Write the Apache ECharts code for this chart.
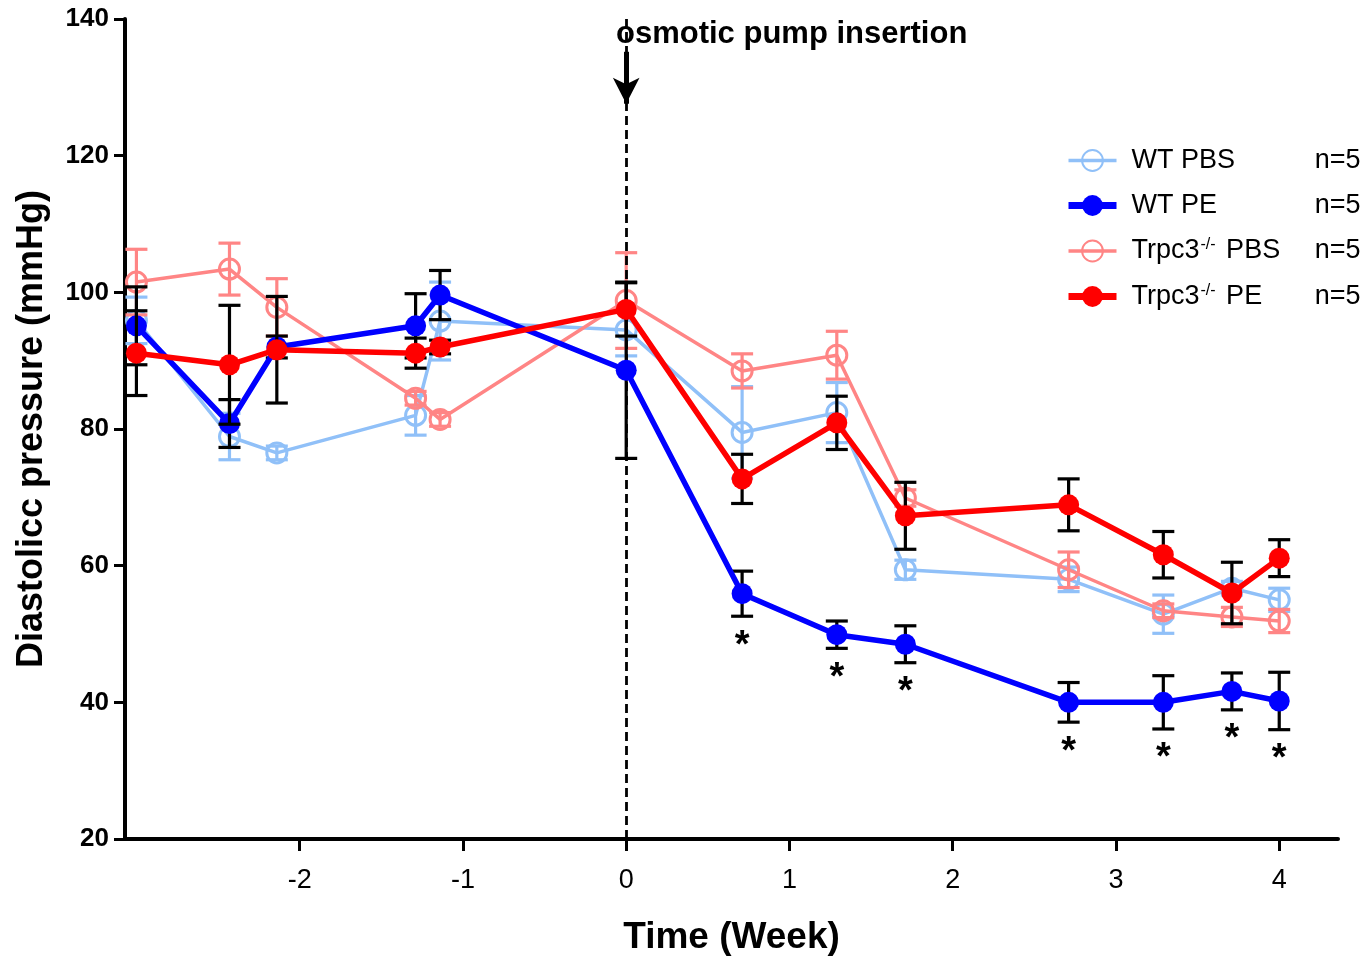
<!DOCTYPE html>
<html>
<head>
<meta charset="utf-8">
<script src="https://cdn.jsdelivr.net/npm/echarts@6/dist/echarts.min.js"></script>
<style>
html,body{margin:0;padding:0;background:#fff;}
#chart{width:1366px;height:957px;}
</style>
</head>
<body>
<div id="chart"></div>
<script>
// ---- data ----
const weeks = [-3, -2.43, -2.14, -1.29, -1.14, 0, 0.71, 1.29, 1.71, 2.71, 3.29, 3.71, 4];

const wtPbsMean = [95.9, 78.9, 76.5, 82.0, 95.8, 94.5, 79.5, 82.4, 59.4, 58.0, 52.9, 56.7, 55.0];
const wtPbsErr  = [3.4, 3.4, 1.0, 2.9, 5.7, 3.8, 6.7, 4.4, 1.4, 1.8, 2.8, 1.0, 1.7];

const wtPeMean  = [95.1, 80.8, 92.0, 95.1, 99.6, 88.6, 55.9, 49.9, 48.5, 40.0, 40.0, 41.6, 40.2];
const wtPeErr   = [5.7, 3.5, 1.6, 4.7, 3.6, 12.9, 3.3, 2.0, 2.7, 2.9, 3.9, 2.7, 4.2];

const koPbsMean = [101.5, 103.4, 97.8, 84.5, 81.4, 98.8, 88.5, 90.8, 69.9, 59.4, 53.4, 52.5, 51.9];
const koPbsErr  = [4.8, 3.8, 4.2, 1.0, 1.0, 7.0, 2.5, 3.5, 1.2, 2.6, 1.0, 1.4, 1.7];

const koPeMean  = [91.1, 89.4, 91.6, 91.1, 92.0, 97.5, 72.7, 80.9, 67.3, 68.9, 61.6, 56.0, 61.1];
const koPeErr   = [6.2, 8.7, 7.8, 2.2, 1.0, 3.9, 3.6, 3.9, 4.9, 3.8, 3.4, 4.5, 2.7];

// significance markers (*) for WT PE
const wtPeSig   = [0, 0, 0, 0, 0, 0, 1, 1, 1, 1, 1, 1, 1];

const seriesNames = ['WT PBS', 'WT PE', 'Trpc3-/- PBS', 'Trpc3-/- PE'];
const nCounts = [5, 5, 5, 5];

const xTicks = [-2, -1, 0, 1, 2, 3, 4];

// ---- chart ----
const chart = echarts.init(document.getElementById('chart'), null, {renderer: 'canvas'});
const FONT = 'Liberation Sans, Arial, Helvetica, sans-serif';

function errSeries(means, errs, color, z) {
  return {
    type: 'custom',
    silent: true,
    z: z,
    encode: {x: 0, y: [1, 2]},
    data: weeks.map((w, i) => [w, means[i] - errs[i], means[i] + errs[i]]),
    renderItem: function (params, api) {
      const x = api.value(0);
      const lo = api.coord([x, api.value(1)]);
      const hi = api.coord([x, api.value(2)]);
      const hw = 11;
      const st = {stroke: color, lineWidth: 3.2};
      return {
        type: 'group',
        children: [
          {type: 'line', shape: {x1: lo[0], y1: lo[1], x2: hi[0], y2: hi[1]}, style: st},
          {type: 'line', shape: {x1: lo[0] - hw, y1: lo[1], x2: lo[0] + hw, y2: lo[1]}, style: st},
          {type: 'line', shape: {x1: hi[0] - hw, y1: hi[1], x2: hi[0] + hw, y2: hi[1]}, style: st}
        ]
      };
    }
  };
}

function lineSeries(name, means, color, filled, width, z) {
  return {
    type: 'line',
    name: name,
    z: z,
    data: weeks.map((w, i) => [w, means[i]]),
    symbol: 'circle',
    symbolSize: filled ? 21 : 20,
    lineStyle: {color: color, width: width},
    itemStyle: filled ? {color: color} : {color: 'rgba(255,255,255,0)', borderColor: color, borderWidth: 3},
    emphasis: {disabled: true}
  };
}

const lb = '#90C0F8', blue = '#0000FF', pink = '#FF8585', red = '#FF0000';

const starData = [];
weeks.forEach((w, i) => { if (wtPeSig[i]) starData.push([w, wtPeMean[i] - wtPeErr[i]]); });

const option = {
  animation: false,
  backgroundColor: '#fff',
  grid: {left: 125, right: 28, top: 19, bottom: 118, containLabel: false, outerBoundsMode: 'none'},
  xAxis: {
    type: 'value',
    min: -3.07, max: 4.36,
    name: 'Time (Week)',
    nameLocation: 'middle',
    nameGap: 80,
    nameTextStyle: {fontFamily: FONT, fontWeight: 'bold', fontSize: 37, color: '#000'},
    axisLine: {onZero: false, lineStyle: {color: '#000', width: 4}},
    axisTick: {show: true, length: 12, customValues: xTicks, lineStyle: {color: '#000', width: 3}},
    axisLabel: {customValues: xTicks, fontFamily: FONT, fontSize: 27, color: '#000', margin: 28},
    splitLine: {show: false}
  },
  yAxis: {
    type: 'value',
    min: 20, max: 140, interval: 20,
    name: 'Diastolicc pressure (mmHg)',
    nameLocation: 'middle',
    nameGap: 75,
    nameTextStyle: {fontFamily: FONT, fontWeight: 'bold', fontSize: 36, color: '#000'},
    axisLine: {show: true, onZero: false, lineStyle: {color: '#000', width: 4}},
    axisTick: {show: true, length: 11, lineStyle: {color: '#000', width: 3}},
    axisLabel: {fontFamily: FONT, fontWeight: 'bold', fontSize: 26, color: '#000', margin: 16},
    splitLine: {show: false}
  },
  legend: {
    data: [
      {name: seriesNames[0], lineStyle: {width: 3.5}},
      {name: seriesNames[1], lineStyle: {width: 7}},
      {name: seriesNames[2], lineStyle: {width: 3.5}},
      {name: seriesNames[3], lineStyle: {width: 7}}
    ],
    orient: 'vertical',
    left: 1060, top: 142,
    itemWidth: 48, itemHeight: 26, itemGap: 18,
    selectedMode: false,
    textStyle: {
      fontFamily: FONT, fontSize: 27, color: '#000', width: 229,
      padding: [0, 0, 0, 10],
      rich: {
        t: {fontFamily: FONT, fontSize: 27, color: '#000'},
        s: {fontFamily: FONT, fontSize: 16, color: '#000', verticalAlign: 'top', padding: [0, 3, 12, 1]},
        n: {fontFamily: FONT, fontSize: 27, color: '#000', align: 'right'}
      }
    },
    formatter: function (name) {
      const n = nCounts[seriesNames.indexOf(name)];
      if (name.indexOf('Trpc3') === 0) {
        const rest = name.slice('Trpc3-/-'.length);
        return '{t|Trpc3}{s|-/-}{t|' + rest + '}{n|n=' + n + '}';
      }
      return '{t|' + name + '}{n|n=' + n + '}';
    }
  },
  series: [
    errSeries(wtPbsMean, wtPbsErr, lb, 2),
    lineSeries(seriesNames[0], wtPbsMean, lb, false, 3.5, 3),
    errSeries(koPbsMean, koPbsErr, pink, 4),
    lineSeries(seriesNames[2], koPbsMean, pink, false, 3.5, 5),
    errSeries(wtPeMean, wtPeErr, '#000', 6),
    Object.assign(lineSeries(seriesNames[1], wtPeMean, blue, true, 5.5, 7), {
      markLine: {
        silent: true, symbol: 'none', label: {show: false},
        lineStyle: {color: '#000', width: 2.8, type: [9, 5]},
        data: [{xAxis: 0}]
      }
    }),
    errSeries(koPeMean, koPeErr, '#000', 8),
    Object.assign(lineSeries(seriesNames[3], koPeMean, red, true, 5.5, 9), {
      markLine: {
        silent: true, symbol: ['none', 'arrow'], symbolSize: [20, 26], label: {show: false},
        lineStyle: {color: '#000', width: 5, type: 'solid'},
        data: [[{coord: [0, 135.2]}, {coord: [0, 127.6]}]]
      }
    }),
    {
      type: 'custom',
      silent: true,
      z: 10,
      encode: {x: 0, y: 1},
      data: starData,
      renderItem: function (params, api) {
        const p = api.coord([api.value(0), api.value(1)]);
        return {
          type: 'text',
          style: {text: '*', x: p[0], y: p[1] + 11, align: 'center', verticalAlign: 'top',
                  font: 'bold 38px ' + FONT, fill: '#000'}
        };
      }
    }
  ],
  graphic: [
    {type: 'text', left: 616, top: 19, z: 20,
     style: {text: 'osmotic pump insertion', font: 'bold 31px ' + FONT, fill: '#000'}}
  ]
};
chart.setOption(option);
</script>
</body>
</html>
